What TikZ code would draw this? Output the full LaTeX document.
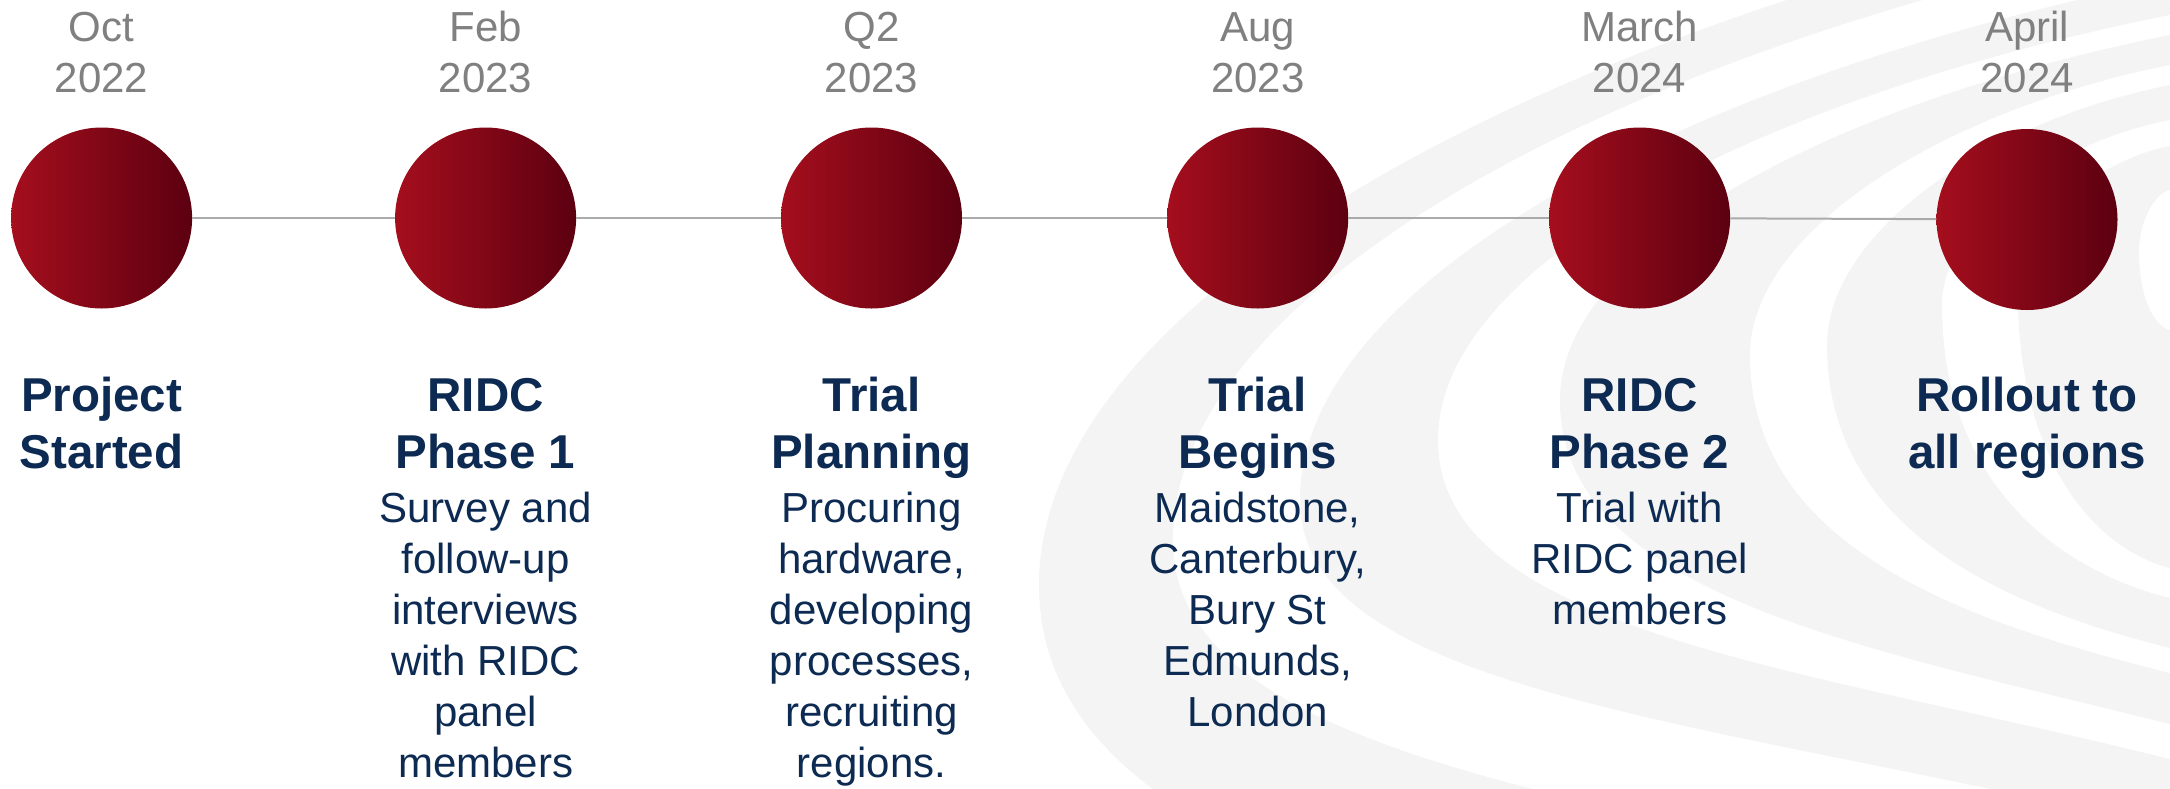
\documentclass[tikz,border=0pt]{standalone}
\usepackage{fontspec}
\setmainfont{Liberation Sans}
\definecolor{navy}{RGB}{12,42,82}
\definecolor{dategray}{RGB}{128,128,128}
\definecolor{bandgray}{RGB}{244,244,244}
\definecolor{redL}{RGB}{165,14,29}
\definecolor{redR}{RGB}{92,0,16}
\definecolor{linegray}{RGB}{170,170,170}
\tikzset{
  dot/.style={circle, minimum size=181pt, inner sep=0pt, left color=redL, right color=redR, draw=none},
  datetxt/.style={anchor=base, align=center, text=dategray, font=\fontsize{42}{51}\selectfont, inner sep=0pt},
  titletxt/.style={anchor=base, align=center, text=navy, font=\fontsize{47.5}{56.6}\selectfont\bfseries, inner sep=0pt},
  desctxt/.style={anchor=base, align=center, text=navy, font=\fontsize{42}{51}\selectfont, inner sep=0pt},
  conn/.style={draw=linegray, line width=2pt}
}
\begin{document}
\begin{tikzpicture}[x=1pt,y=-1pt]
\useasboundingbox (0,0) rectangle (2170,788);
\begin{scope}
  \clip (0,0) rectangle (2170,788);
  \fill[white] (0,0) rectangle (2170,788);
  \foreach \xL/\yL/\T/\B/\c in {
      1039/585/-100/1100/bandgray,
      1173/540/-60/930/white,
      1300/500/-20/830/bandgray,
      1438/440/15/759/white,
      1560/400/35/724/bandgray,
      1750/355/65/673/white,
      1827/345/85/648/bandgray,
      1942/305/120/598/white,
      2018/295/146/568/bandgray,
      2139/251/190/330/white}
    \fill[\c] (\xL,\yL)
       .. controls ({\xL},{\yL-0.42*(\yL-\T)}) and ({2170-0.55*(2170-\xL)},{\T+0.11*(2170-\xL)}) .. (2170,\T)
       -- (2300,\T) -- (2300,\B) -- (2170,\B)
       .. controls ({2170-0.5*(2170-\xL)},{\B-0.125*(2170-\xL)}) and ({\xL},{\yL+0.6*(\B-\yL)}) .. (\xL,\yL) -- cycle;
\end{scope}
% milestones
\node[dot] (c1) at (101.6,218) {};
\node[dot] (c2) at (485.6,218) {};
\node[dot] (c3) at (871.5,218) {};
\node[dot] (c4) at (1257.7,218) {};
\node[dot] (c5) at (1639.6,218) {};
\node[dot] (c6) at (2027,219.5) {};
\draw[conn] (c1) -- (c2);
\draw[conn] (c2) -- (c3);
\draw[conn] (c3) -- (c4);
\draw[conn] (c4) -- (c5);
\draw[conn] (c5) -- (c6);
% dates (anchor = baseline of last line)
\node[datetxt] (d1) at (101.6,92.5) {Oct\\2022};
\node[datetxt] (d2) at (485.6,92.5) {Feb\\2023};
\node[datetxt] (d3) at (871.5,92.5) {Q2\\2023};
\node[datetxt] (d4) at (1257.7,92.5) {Aug\\2023};
\node[datetxt] (d5) at (1639.6,92.5) {March\\2024};
\node[datetxt] (d6) at (2027,92.5) {April\\2024};
% titles
\node[titletxt] (t1) at (101.6,468.3) {Project\\Started};
\node[titletxt] (t2) at (485.6,468.3) {RIDC\\Phase 1};
\node[titletxt] (t3) at (871.5,468.3) {Trial\\Planning};
\node[titletxt] (t4) at (1257.7,468.3) {Trial\\Begins};
\node[titletxt] (t5) at (1639.6,468.3) {RIDC\\Phase 2};
\node[titletxt] (t6) at (2027,468.3) {Rollout to\\all regions};
% descriptions
\node[desctxt] (s2) at (485.6,777.6) {Survey and\\follow-up\\interviews\\with RIDC\\panel\\members};
\node[desctxt] (s3) at (871.5,777.6) {Procuring\\hardware,\\developing\\processes,\\recruiting\\regions.};
\node[desctxt] (s4) at (1257.7,726.6) {Maidstone,\\Canterbury,\\Bury St\\Edmunds,\\London};
\node[desctxt] (s5) at (1639.6,624.6) {Trial with\\RIDC panel\\members};
\end{tikzpicture}
\end{document}
